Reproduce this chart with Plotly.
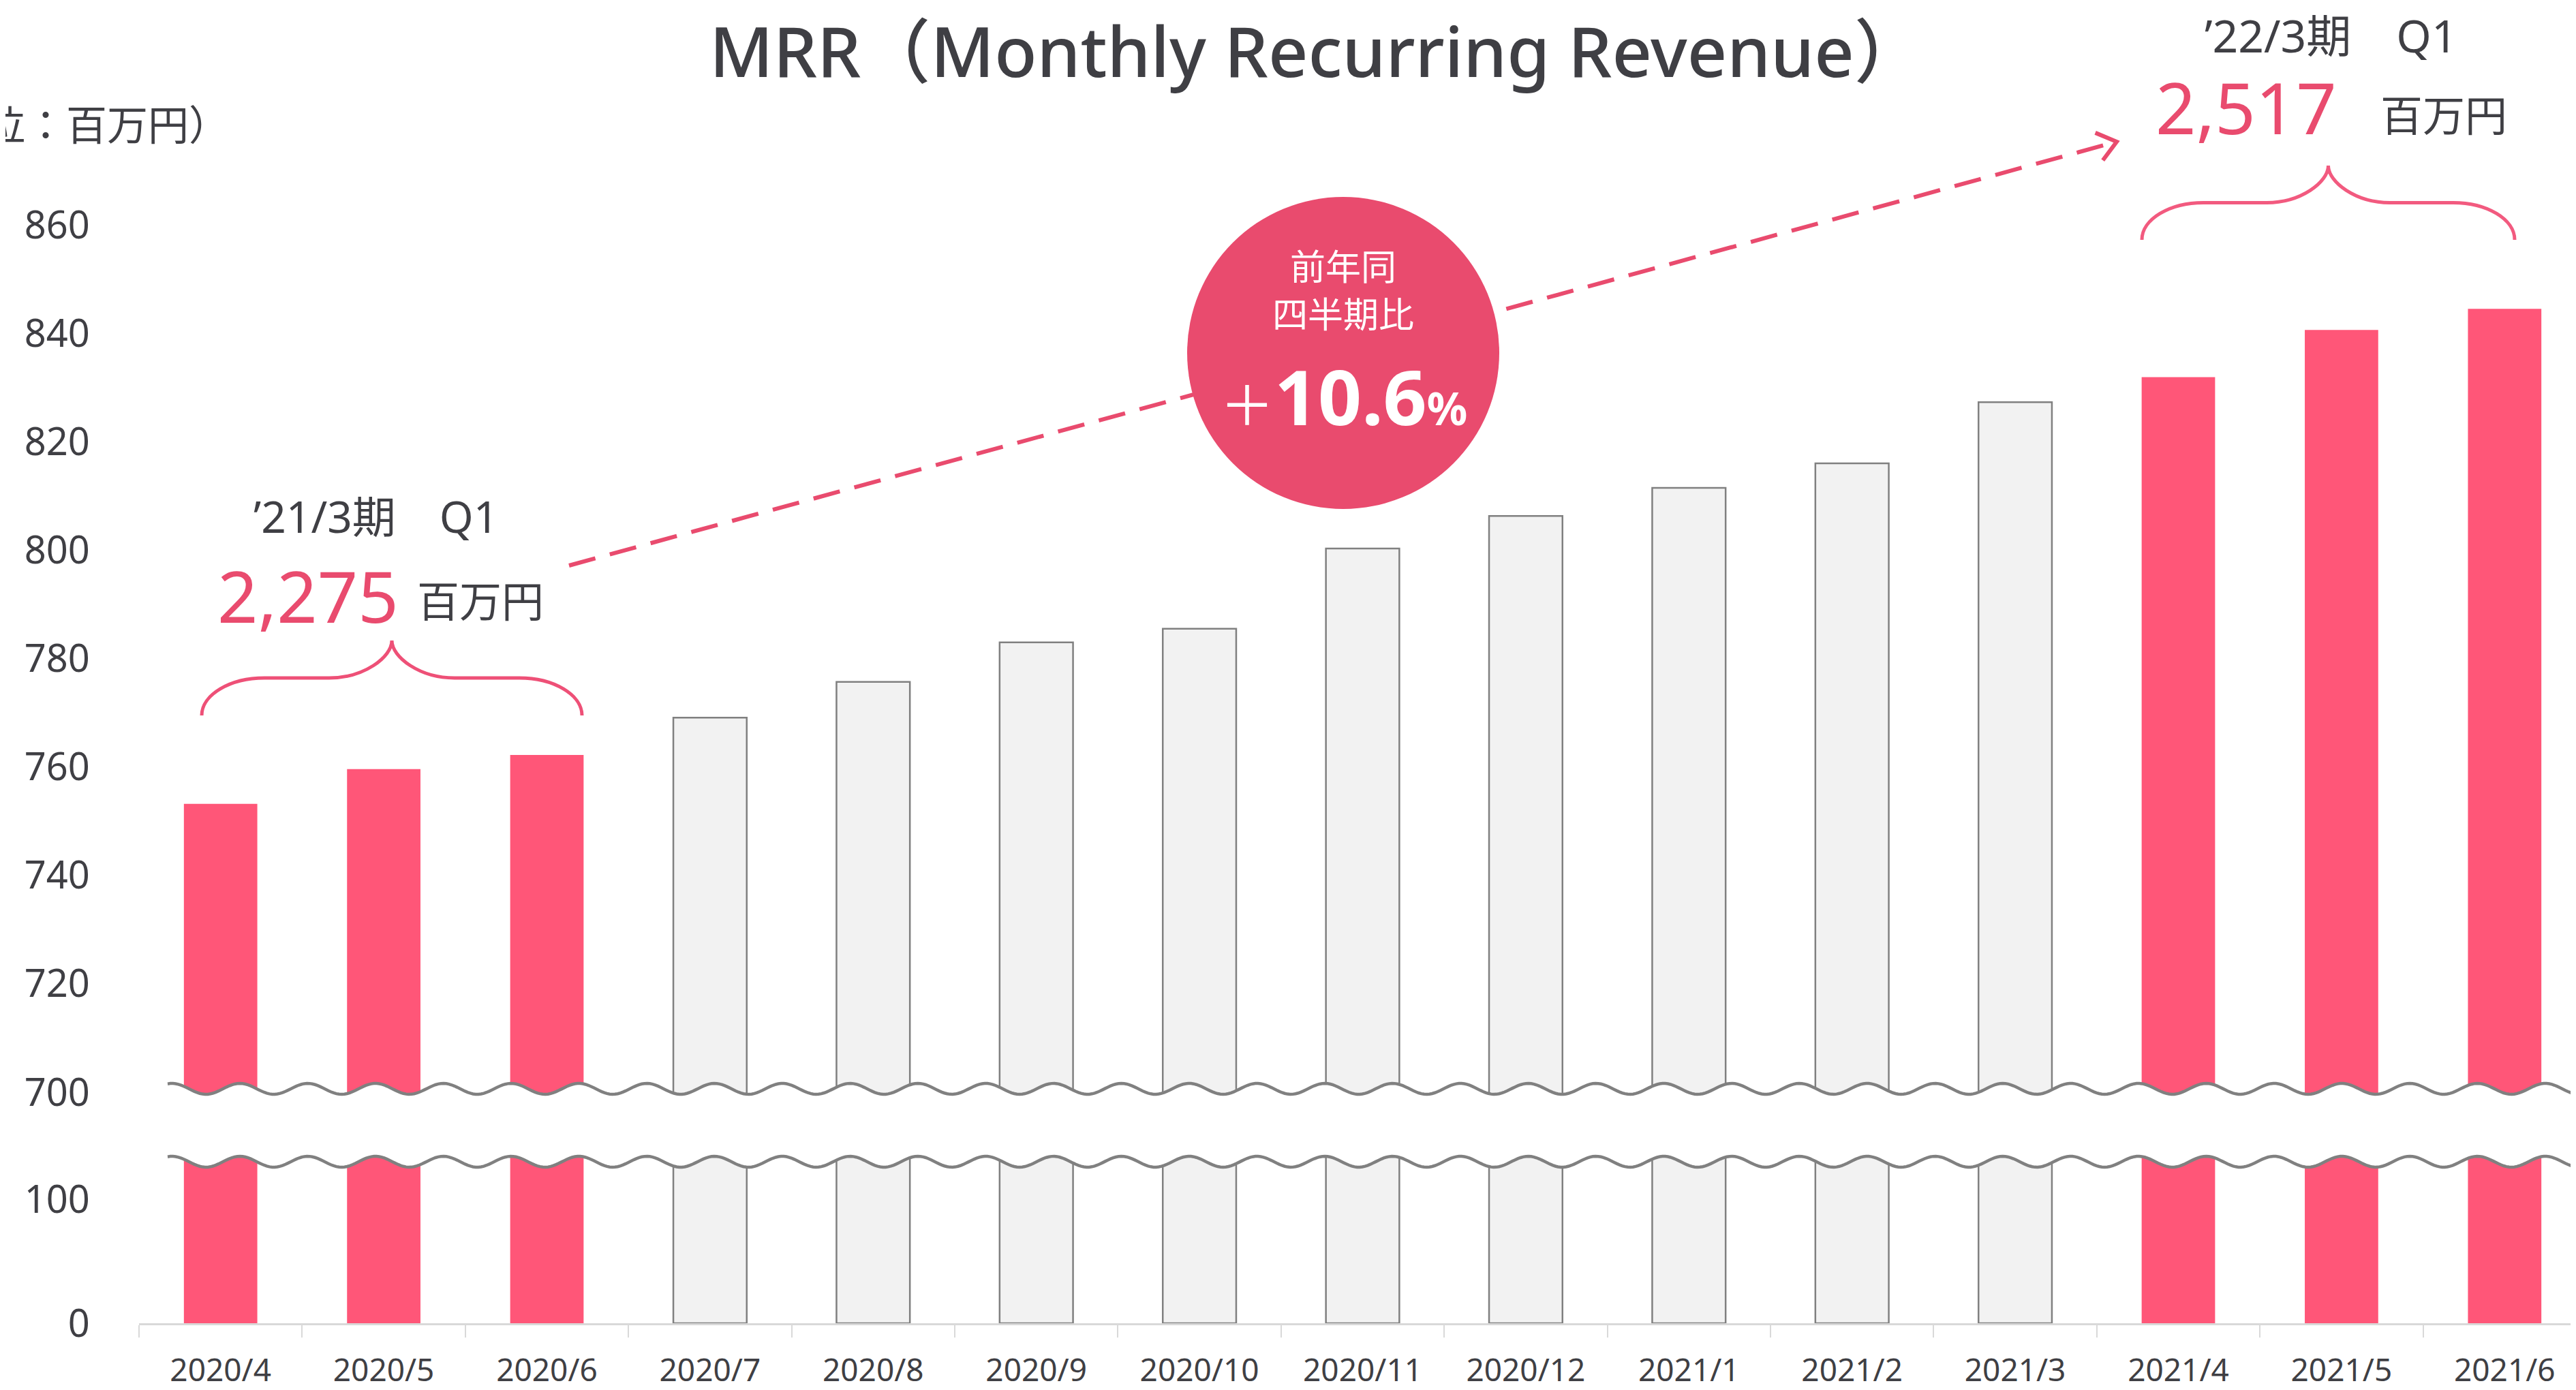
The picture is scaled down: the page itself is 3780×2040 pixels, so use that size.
import numpy as np
import plotly.graph_objects as go

# ---------------- data ----------------
months = ["2020/4", "2020/5", "2020/6", "2020/7", "2020/8", "2020/9", "2020/10",
          "2020/11", "2020/12", "2021/1", "2021/2", "2021/3", "2021/4", "2021/5", "2021/6"]
mrr = [753.2, 759.6, 762.2, 769.1, 775.7, 783.0, 785.5,
       800.3, 806.3, 811.5, 816.0, 827.3, 831.9, 840.6, 844.5]
highlight_months = ["2020/4", "2020/5", "2020/6", "2021/4", "2021/5", "2021/6"]
upper_ticks = [700, 720, 740, 760, 780, 800, 820, 840, 860]
lower_ticks = [0, 100]
q1_prev_label = "’21/3期　Q1"
q1_prev_value = "2,275"
q1_curr_label = "’22/3期　Q1"
q1_curr_value = "2,517"
unit_label = "百万円"
yoy_lines = ["前年同", "四半期比"]
yoy_value = "10.6"

# ---------------- styling ----------------
W, H = 3780, 2040
OFF = 8  # page body margin offset (screen = figure + OFF)
L, R, T, B = 204, 3780, 330, 1942  # plot area in screen pixels
PINK_BAR = "#FF5678"
PINK = "#E94B6E"
GREY_FILL = "#F2F2F2"
GREY_LINE = "#808080"
TEXT = "#3F3F44"
FONT = "Noto Sans, Noto Sans CJK JP, sans-serif"


def px(x):
    return (x - L) / (R - L)


def py(y):
    return (B - y) / (B - T)


is_hi = [m in highlight_months for m in months]
fill_colors = [PINK_BAR if h else GREY_FILL for h in is_hi]
line_colors = [PINK_BAR if h else GREY_LINE for h in is_hi]
line_widths = [0 if h else 2.5 for h in is_hi]

# axis geometry (screen pixels)
upper_bottom_px, upper_700_px, upper_top_px = 1615, 1603, 330
upper_ppu = (upper_700_px - upper_top_px) / (upper_ticks[-1] - upper_ticks[0])
upper_range = [upper_ticks[0] - (upper_bottom_px - upper_700_px) / upper_ppu, upper_ticks[-1]]
lower_ppu = (1942 - 1760) / 100.0
lower_top_px = 1690
lower_range = [0, (B - lower_top_px) / lower_ppu]

fig = go.Figure()
for xa, ya in (("x", "y"), ("x2", "y2")):
    fig.add_trace(go.Bar(
        x=months, y=mrr, xaxis=xa, yaxis=ya, width=0.45,
        marker=dict(color=fill_colors, line=dict(color=line_colors, width=line_widths)),
        hoverinfo="skip", showlegend=False,
    ))

tick_font = dict(family=FONT, size=56, color=TEXT)
fig.update_layout(
    width=W, height=H,
    margin=dict(l=L - OFF, r=W - (R - OFF), t=T - OFF, b=H - (B - OFF), pad=0),
    paper_bgcolor="white", plot_bgcolor="rgba(0,0,0,0)",
    xaxis=dict(domain=[0, 1], anchor="y", type="category", range=[-0.5, (R - L) / 239.4 - 0.5],
               showline=True, linecolor="#D9D9D9", linewidth=3,
               ticks="outside", tickson="boundaries", ticklen=18, tickcolor="#D9D9D9", tickwidth=2,
               tickfont=dict(family=FONT, size=46, color=TEXT), ticklabelstandoff=27,
               showgrid=False, zeroline=False),
    xaxis2=dict(domain=[0, 1], anchor="y2", matches="x", type="category",
                showticklabels=False, showline=False, showgrid=False, zeroline=False, ticks=""),
    yaxis=dict(domain=[0, py(lower_top_px)], anchor="x", range=lower_range,
               tickvals=lower_ticks, ticktext=[str(v) for v in lower_ticks],
               ticks="outside", ticklen=60, tickcolor="rgba(0,0,0,0)",
               tickfont=tick_font, showgrid=False, zeroline=False, showline=False),
    yaxis2=dict(domain=[py(upper_bottom_px), 1], anchor="x2", range=upper_range,
                tickvals=upper_ticks, ticktext=[str(v) for v in upper_ticks],
                ticks="outside", ticklen=60, tickcolor="rgba(0,0,0,0)",
                tickfont=tick_font, showgrid=False, zeroline=False, showline=False),
)

shapes = []

# --- broken-axis waves ---
wx = np.linspace(246, R, 900)
period, amp, peak0 = 99.5, 8.0, 352.0
up_y = 1598 - amp * np.cos(2 * np.pi * (wx - peak0) / period)
lo_y = 1705 - amp * np.cos(2 * np.pi * (wx - peak0) / period)


def poly(xs, ys):
    return " ".join(f"{'M' if i == 0 else 'L'}{px(a):.6f},{py(b):.6f}" for i, (a, b) in enumerate(zip(xs, ys)))


band = poly(np.concatenate([wx, wx[::-1]]), np.concatenate([up_y, lo_y[::-1]])) + " Z"
shapes.append(dict(type="path", xref="paper", yref="paper", path=band,
                   fillcolor="white", line=dict(width=0), layer="above"))
for ys in (up_y, lo_y):
    shapes.append(dict(type="path", xref="paper", yref="paper", path=poly(wx, ys),
                       line=dict(color=GREY_LINE, width=4.5), layer="above"))


# --- braces ---
def brace(Lx, Rx, Ty, By, color):
    Cx = (Lx + Rx) / 2
    My = (Ty + By) / 2
    a = 0.165 * (Rx - Lx)
    k = 0.5523
    pts = [
        f"M{px(Lx)},{py(By)}",
        f"C{px(Lx)},{py(By - k * (By - My))} {px(Lx + a - k * a)},{py(My)} {px(Lx + a)},{py(My)}",
        f"L{px(Cx - a)},{py(My)}",
        f"C{px(Cx - a + k * a)},{py(My)} {px(Cx)},{py(My - k * (My - Ty))} {px(Cx)},{py(Ty)}",
        f"C{px(Cx)},{py(My - k * (My - Ty))} {px(Cx + a - k * a)},{py(My)} {px(Cx + a)},{py(My)}",
        f"L{px(Rx - a)},{py(My)}",
        f"C{px(Rx - a + k * a)},{py(My)} {px(Rx)},{py(By - k * (By - My))} {px(Rx)},{py(By)}",
    ]
    return dict(type="path", xref="paper", yref="paper", path=" ".join(pts),
                line=dict(color=color, width=5), layer="above")


shapes.append(brace(296, 854, 940, 1050, "#EE5077"))
shapes.append(brace(3143, 3690, 243, 352, "#F25A7F"))

# --- dashed arrow ---
x0, y0, x1, y1 = 835, 830, 3106, 208
shapes.append(dict(type="line", xref="paper", yref="paper",
                   x0=px(x0), y0=py(y0), x1=px(x1), y1=py(y1),
                   line=dict(color=PINK, width=6, dash="40px,22px"), layer="above"))
d = np.array([x1 - x0, y1 - y0], dtype=float)
d /= np.linalg.norm(d)
arms = []
for ang in (np.radians(38), -np.radians(38)):
    rot = np.array([[np.cos(ang), -np.sin(ang)], [np.sin(ang), np.cos(ang)]])
    v = rot @ (-d) * 34
    arms.append((x1 + v[0], y1 + v[1]))
shapes.append(dict(type="path", xref="paper", yref="paper",
                   path=f"M{px(arms[0][0])},{py(arms[0][1])} L{px(x1)},{py(y1)} L{px(arms[1][0])},{py(arms[1][1])}",
                   line=dict(color=PINK, width=6), layer="above"))

# --- circle ---
cx, cy, rr = 1971, 518, 229
shapes.append(dict(type="circle", xref="paper", yref="paper",
                   x0=px(cx - rr), x1=px(cx + rr), y0=py(cy + rr), y1=py(cy - rr),
                   fillcolor=PINK, line=dict(width=0), layer="above"))

fig.update_layout(shapes=shapes)

ann = []


def text(x, y, s, size, color=TEXT, xanchor="center", family=FONT, weight=400):
    ann.append(dict(x=px(x), y=py(y), xref="paper", yref="paper", text=s, showarrow=False,
                    xanchor=xanchor, yanchor="middle",
                    font=dict(family=family, size=size, color=color, weight=weight)))


text(1932, 73, "MRR（Monthly Recurring Revenue）", 102, weight=500)
text(339, 183, "（単位：" + unit_label + "）", 60, xanchor="right")

text(551, 757, q1_prev_label, 64)
text(452, 873, q1_prev_value, 104, color=PINK)
text(705, 882, unit_label, 62)

text(3420, 51, q1_curr_label, 66)
text(3296, 157, q1_curr_value, 104, color=PINK)
text(3586, 169, unit_label, 62)

text(cx, 390, yoy_lines[0], 52, color="white")
text(cx, 460, yoy_lines[1], 52, color="white")
text(cx, 580, "<span style='font-size:80px'>＋</span><b>" + yoy_value +
     "</b><b><span style='font-size:66px'>%</span></b>", 112, color="white")

fig.update_layout(annotations=ann)

fig.write_html("out.html")
